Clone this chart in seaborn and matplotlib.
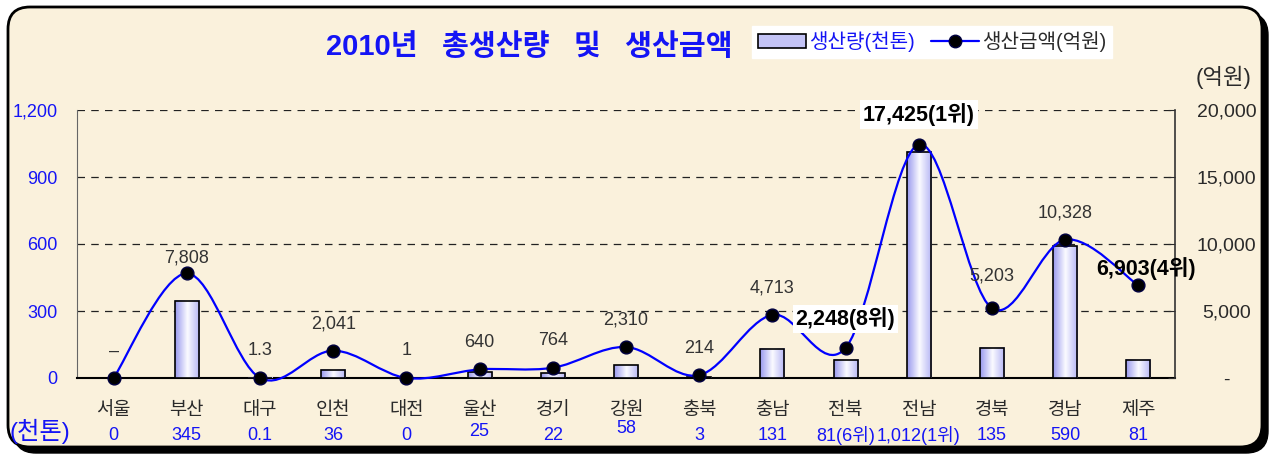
import numpy as np
import pandas as pd
import matplotlib
matplotlib.use('Agg')
import matplotlib.pyplot as plt
import matplotlib.transforms as mtrans
from matplotlib.patches import FancyBboxPatch, PathPatch, Patch
from matplotlib.path import Path
from matplotlib.lines import Line2D
from matplotlib.ticker import FuncFormatter
from matplotlib.colors import LinearSegmentedColormap
import seaborn as sns

# data
regions = ['서울', '부산', '대구', '인천', '대전', '울산', '경기', '강원',
           '충북', '충남', '전북', '전남', '경북', '경남', '제주']
production = [0, 345, 0.1, 36, 0, 25, 22, 58, 3, 131, 81, 1012, 135, 590, 81]  # 천톤
production_labels = ['0', '345', '0.1', '36', '0', '25', '22', '58', '3', '131',
                     '81(6위)', '1,012(1위)', '135', '590', '81']
amount = [0, 7808, 1.3, 2041, 1, 640, 764, 2310, 214, 4713, 2248, 17425, 5203, 10328, 6903]  # 억원
amount_labels = ['–', '7,808', '1.3', '2,041', '1', '640', '764', '2,310', '214', '4,713',
                 '2,248(8위)', '17,425(1위)', '5,203', '10,328', '6,903(4위)']
highlight = ['전북', '전남', '제주']
boxed = ['전북', '전남']

sns.set_style('white')
plt.rcParams['font.family'] = ['Liberation Sans', 'Noto Sans CJK KR']

BLUE = '#1414f5'
DARK = '#2a2a2a'

fig = plt.figure(figsize=(12.76, 4.58), dpi=100, facecolor='white')

# rounded parchment frame with shadow
px = mtrans.IdentityTransform()
fig.add_artist(FancyBboxPatch((14, 5), 1254, 440, boxstyle='round,pad=0,rounding_size=22',
                              transform=px, facecolor='black', edgecolor='black', zorder=-3))
fig.add_artist(FancyBboxPatch((8, 11), 1254, 440, boxstyle='round,pad=0,rounding_size=22',
                              transform=px, facecolor='#faf1dc', edgecolor='black',
                              linewidth=2, zorder=-2))

ax = fig.add_axes([77 / 1276, 1 - 378 / 458, 1098 / 1276, 268 / 458])
ax.patch.set_alpha(0)

df = pd.DataFrame({'region': regions, 'production': production, 'amount': amount})
sns.barplot(data=df, x='region', y='production', ax=ax, width=0.33, color='#c8c8f8',
            saturation=1, edgecolor='black', linewidth=1.2, zorder=3)

# gradient fill inside each bar
grad = LinearSegmentedColormap.from_list('bar', ['#9898ee', '#fbfbff', '#b4b4f4'])
for bar in list(ax.patches):
    h = bar.get_height()
    if h > 0:
        x0, y0 = bar.get_xy()
        w = bar.get_width()
        ax.imshow(np.linspace(0, 1, 128)[None, :], cmap=grad, aspect='auto',
                  extent=[x0, x0 + w, y0, y0 + h], zorder=3.5, interpolation='bilinear')
        bar.set_facecolor('none')
        bar.set_zorder(4)

ax.set_xlim(-0.5, 14.5)
ax.set_ylim(0, 1200)
ax.set_yticks([0, 300, 600, 900, 1200])
ax.yaxis.set_major_formatter(FuncFormatter(lambda v, p: f'{v:,.0f}'))
ax.tick_params(axis='y', colors=BLUE, labelsize=13, length=0, pad=14)
ax.set_xticks(range(len(regions)))
ax.set_xticklabels([])
ax.tick_params(axis='x', which='major', length=0)
ax.set_xticks(np.arange(0.5, 14, 1), minor=True)
ax.tick_params(axis='x', which='minor', direction='in', length=5, color='#333333', width=1)
ax.set_xlabel('')
ax.set_ylabel('')
ax.yaxis.grid(True, color='#222222', linestyle=(0, (6, 5)), linewidth=0.9)
ax.xaxis.grid(False)
ax.set_axisbelow(True)
for s in ['top', 'right']:
    ax.spines[s].set_visible(False)
ax.spines['left'].set_color('#666666')
ax.spines['bottom'].set_color('black')
ax.spines['bottom'].set_linewidth(1.5)

# category names and production values under the axis
for i, (name, lab) in enumerate(zip(regions, production_labels)):
    ax.text(i, -0.12, name, transform=ax.get_xaxis_transform(), ha='center', va='center',
            fontsize=13.5, color=DARK)
    dy = {'울산': 0.015, '강원': 0.025}.get(name, 0)
    ax.text(i, -0.215 + dy, lab, transform=ax.get_xaxis_transform(), ha='center', va='center',
            fontsize=13, color=BLUE)
fig.text(40 / 1276, 1 - 431 / 458, '(천톤)', ha='center', va='center', fontsize=17.5, color=BLUE)

# production amount on the secondary axis
ax2 = ax.twinx()
ax2.patch.set_alpha(0)
n = len(amount)
P = np.column_stack([np.arange(n), amount]).astype(float)
verts = [P[0]]
codes = [Path.MOVETO]
for i in range(n - 1):
    p0, p1, p2, p3 = P[max(i - 1, 0)], P[i], P[i + 1], P[min(i + 2, n - 1)]
    verts += [p1 + (p2 - p0) / 6, p2 - (p3 - p1) / 6, p2]
    codes += [Path.CURVE4] * 3
ax2.add_patch(PathPatch(Path(verts, codes), facecolor='none', edgecolor='#0000ff',
                        linewidth=1.6, zorder=3, clip_on=False))
sns.scatterplot(x=np.arange(n), y=amount, ax=ax2, color='black', s=85, edgecolor='#000040',
                linewidth=1, zorder=4, clip_on=False, legend=False)

ax2.set_xlim(-0.5, 14.5)
ax.set_xlim(-0.5, 14.5)
ax2.set_ylim(0, 20000)
ax2.set_yticks([0, 5000, 10000, 15000, 20000])
ax2.yaxis.set_major_formatter(FuncFormatter(lambda v, p: '-' if v == 0 else f'{v:,.0f}'))
ax2.tick_params(axis='y', direction='in', length=5, labelsize=14, colors=DARK, pad=37)
for lbl in ax2.get_yticklabels():
    lbl.set_horizontalalignment('center')
ax2.set_xlabel('')
ax2.set_ylabel('')
for s in ['top', 'left', 'bottom']:
    ax2.spines[s].set_visible(False)
ax2.spines['right'].set_color('#333333')
ax2.spines['right'].set_linewidth(1.2)
fig.text(1224 / 1276, 1 - 77 / 458, '(억원)', ha='center', va='center', fontsize=16, color=DARK)

offsets = {'부산': (0, 15), '경북': (0, 32), '전북': (0, 29), '전남': (0, 30), '제주': (8, 17)}
for i, (name, lab) in enumerate(zip(regions, amount_labels)):
    dx, dy = offsets.get(name, (0, 27))
    bold = name in highlight
    bbox = dict(facecolor='white', edgecolor='none', pad=2) if name in boxed else None
    ax2.annotate(lab, (i, amount[i]), xytext=(dx, dy), textcoords='offset pixels',
                 ha='center', va='center', fontsize=15.5 if bold else 13,
                 fontweight='bold' if bold else 'normal',
                 color='black' if bold else '#333333', bbox=bbox, zorder=6)

# title and legend
fig.text(529 / 1276, 1 - 47 / 458, '2010년   총생산량   및   생산금액', ha='center', va='center',
         fontsize=21, fontweight='bold', color=BLUE)
handles = [Patch(facecolor='#c4c4f6', edgecolor='black', linewidth=1.2),
           Line2D([0], [0], color='#0000ff', linewidth=1.6, marker='o', markersize=9,
                  markerfacecolor='black', markeredgecolor='#000040')]
leg = fig.legend(handles, ['생산량(천톤)', '생산금액(억원)'], loc='center',
                 bbox_to_anchor=(932 / 1276, 1 - 42 / 458), ncol=2, frameon=True,
                 facecolor='white', edgecolor='white', fancybox=False, framealpha=1,
                 fontsize=14.5, handlelength=2.4, handletextpad=0.15, columnspacing=0.8,
                 borderpad=0.3)
leg.get_texts()[0].set_color(BLUE)
leg.get_texts()[1].set_color(DARK)

fig.savefig('out.png', dpi=100, facecolor='white')
